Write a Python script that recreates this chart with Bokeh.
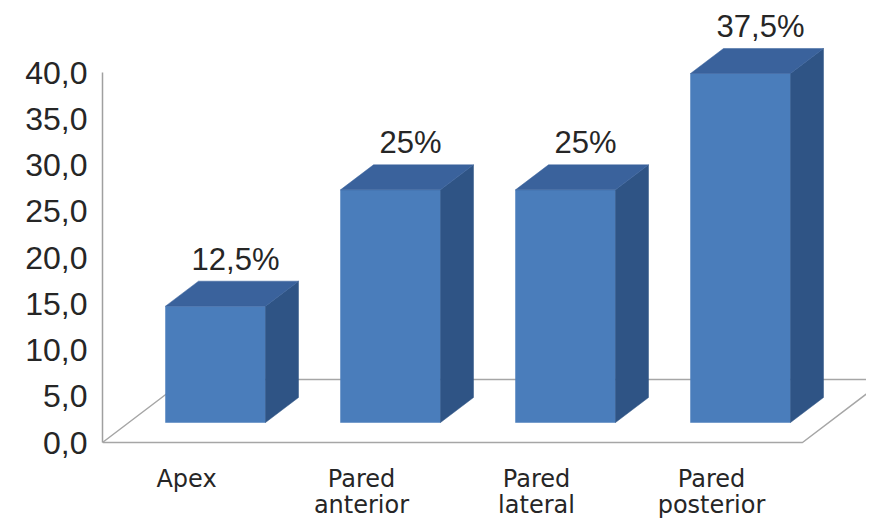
from bokeh.plotting import figure
from bokeh.models import Range1d, FixedTicker, CustomJSTickFormatter, ColumnDataSource
from bokeh.core.properties import value
from bokeh.embed import file_html
from bokeh.resources import INLINE

# ---------------- data ----------------
categories = ["Apex", "Pared\nanterior", "Pared\nlateral", "Pared\nposterior"]
percentages = [12.5, 25.0, 25.0, 37.5]
y_ticks = [0, 5, 10, 15, 20, 25, 30, 35, 40]

# ---------------- geometry (pixels) ----------------
W, H = 866, 520
LEFT = 102                # frame left border (figure px)
FRAME_W = W - LEFT
CAT_STEP = 175.0          # px between categories
FIRST_CENTER = 113.0      # px from frame left to first bar front centre
BAR_W = 100.0
DEPTH_X, DEPTH_Y = 33.0, 25.0
BAR_BASE = 422.0          # figure px of bar base
BAR_SCALE = 9.307         # px per unit for bars
AXIS_BASE = 442.0         # figure px of axis zero
AXIS_SCALE = 9.25         # px per unit for the axis
FLOOR_DX, FLOOR_DY = 83.0, 63.0
FLOOR_RIGHT_PAD = 12.0    # px beyond last bar front right

x_start = -FIRST_CENTER / CAT_STEP
x_end = x_start + FRAME_W / CAT_STEP
y_start = -(H - AXIS_BASE) / AXIS_SCALE
y_end = AXIS_BASE / AXIS_SCALE
b_start = -(H - BAR_BASE) / BAR_SCALE
b_end = BAR_BASE / BAR_SCALE

p = figure(width=W, height=H, output_backend="svg", toolbar_location=None,
           x_range=Range1d(x_start, x_end), y_range=Range1d(y_start, y_end),
           min_border_left=LEFT, min_border_right=0, min_border_top=0, min_border_bottom=0,
           x_axis_location=None, y_axis_location="left")
p.extra_y_ranges = {"bars": Range1d(b_start, b_end)}
p.outline_line_color = None
p.xgrid.visible = False
p.ygrid.visible = False
p.background_fill_color = "white"
p.border_fill_color = "white"

ax = p.yaxis[0]
ax.ticker = FixedTicker(ticks=y_ticks)
ax.bounds = (y_ticks[0], y_ticks[-1])
ax.formatter = CustomJSTickFormatter(code="return tick.toFixed(1).replace('.', ',');")
ax.axis_line_color = "#a0a0a0"
ax.axis_line_width = 1.5
ax.major_tick_line_color = None
ax.minor_tick_line_color = None
ax.major_tick_out = 0
ax.major_tick_in = 0
ax.major_label_standoff = 15
ax.major_label_text_font = "Liberation Sans"
ax.major_label_text_font_size = "32px"
ax.major_label_text_color = "#262626"

# ---------------- floor ----------------
n = len(categories)
fx0 = x_start
fx1 = (n - 1) + (BAR_W / 2 + FLOOR_RIGHT_PAD) / CAT_STEP
fdx = FLOOR_DX / CAT_STEP
fdy = FLOOR_DY / AXIS_SCALE
p.line([fx0, fx1, fx1 + fdx], [0, 0, fdy], line_color="#a6a6a6", line_width=1.5)
p.line([fx0, fx0 + fdx, fx1 + fdx + 1], [0, fdy, fdy], line_color="#a6a6a6", line_width=1.5)

# ---------------- bars ----------------
xs = list(range(n))
bw = BAR_W / CAT_STEP
ddx = DEPTH_X / CAT_STEP
ddy = DEPTH_Y / BAR_SCALE

side_xs, side_ys, top_xs, top_ys = [], [], [], []
for i, v in zip(xs, percentages):
    x0, x1 = i - bw / 2, i + bw / 2
    side_xs.append([x1, x1 + ddx, x1 + ddx, x1])
    side_ys.append([0, ddy, v + ddy, v])
    top_xs.append([x0, x1, x1 + ddx, x0 + ddx])
    top_ys.append([v, v, v + ddy, v + ddy])

p.quad(left=[i - bw / 2 for i in xs], right=[i + bw / 2 for i in xs],
       bottom=[0] * n, top=percentages, y_range_name="bars",
       fill_color="#4a7dbb", line_color="#4a7dbb", line_width=0.5)
p.patches(side_xs, side_ys, y_range_name="bars",
          fill_color="#2f5485", line_color="#2f5485", line_width=0.5)
p.patches(top_xs, top_ys, y_range_name="bars",
          fill_color="#3a629c", line_color="#3a629c", line_width=0.5)

# ---------------- value labels ----------------
def fmt(v):
    if float(v).is_integer():
        return f"{int(v)}%"
    return f"{v:.1f}".replace(".", ",") + "%"

lab_src = ColumnDataSource(dict(
    x=[i + 20.0 / CAT_STEP for i in xs],
    y=[v + ddy + 22.0 / BAR_SCALE for v in percentages],
    t=[fmt(v) for v in percentages]))
p.text(x="x", y="y", text="t", source=lab_src, y_range_name="bars",
       text_align="center", text_baseline="middle",
       text_font=value("Liberation Sans"), text_font_size="31px", text_color="#262626")

# ---------------- category labels ----------------
line1 = [c.split("\n")[0] for c in categories]
line2 = [c.split("\n")[1] if "\n" in c else "" for c in categories]
cx = [i - 29.0 / CAT_STEP for i in xs]
p.text(x=cx, y=[-36.0 / AXIS_SCALE] * n, text=line1,
       text_align="center", text_baseline="middle",
       text_font=value("DejaVu Sans"), text_font_size="24px", text_color="#262626")
p.text(x=cx, y=[-62.0 / AXIS_SCALE] * n, text=line2,
       text_align="center", text_baseline="middle",
       text_font=value("DejaVu Sans"), text_font_size="24px", text_color="#262626")

open("out.html", "w").write(file_html(p, INLINE))
